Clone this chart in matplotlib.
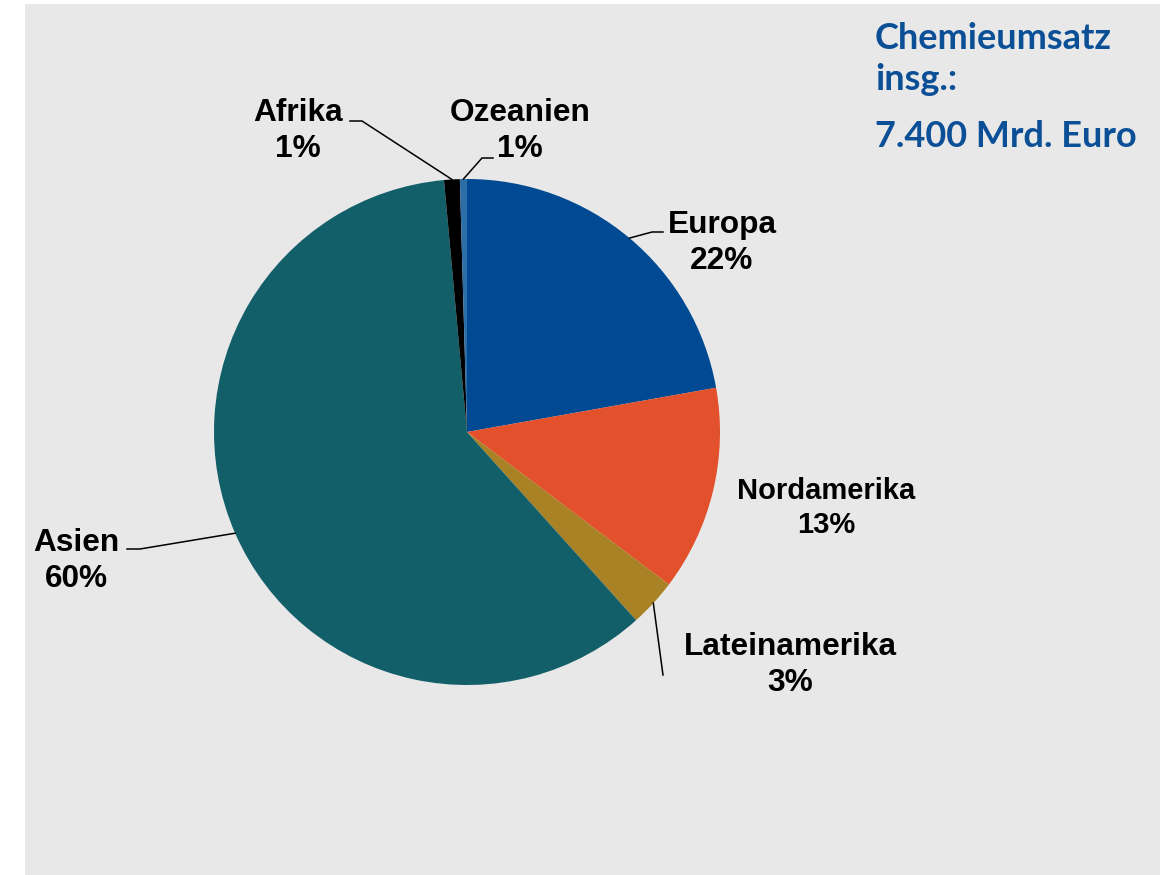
import matplotlib.pyplot as plt
from matplotlib.patches import Rectangle
import numpy as np

# Chemieumsatz nach Regionen (Anteile in %)
regions = ['Europa', 'Nordamerika', 'Lateinamerika', 'Asien', 'Afrika', 'Ozeanien']
shares = [22.2, 13.1, 3.05, 60.2, 1.0, 0.45]
share_labels = ['22%', '13%', '3%', '60%', '1%', '1%']
colors = ['#004a93', '#e2502c', '#a88224', '#135f69', '#000000', '#2e6ea6']

W, H = 1166, 875
fig = plt.figure(figsize=(W / 100, H / 100), dpi=100)
ax = fig.add_axes([0, 0, 1, 1])
ax.set_xlim(0, W)
ax.set_ylim(0, H)
ax.axis('off')

def up(y):
    # image row -> axis y
    return H - y

ax.add_patch(Rectangle((25, 0), 1135, up(4), facecolor='#e8e8e8', edgecolor='none', zorder=0))

cx, cy, r = 467, up(432), 253
wedges, _ = ax.pie(shares, colors=colors, startangle=90, counterclock=False,
                   center=(cx, cy), radius=r, wedgeprops=dict(linewidth=0))
ax.set_xlim(0, W)
ax.set_ylim(0, H)
ax.set_aspect('equal')

# label positions (image coords), font sizes and leader elbows
label_pos = {
    'Europa': (722, 243),
    'Nordamerika': (826, 508),
    'Lateinamerika': (790, 665),
    'Asien': (76, 561),
    'Afrika': (298, 131),
    'Ozeanien': (520, 131),
}
label_size = {'Nordamerika': 21}
leaders = {
    'Europa': [(663, 232), (652, 232)],
    'Lateinamerika': [(663, 675)],
    'Asien': [(127, 549), (140, 549)],
    'Afrika': [(350, 121), (362, 121)],
    'Ozeanien': [(493, 158), (482, 158)],
}

for w, name, lab in zip(wedges, regions, share_labels):
    x, y = label_pos[name]
    fs = label_size.get(name, 22.8)
    ax.text(x, up(y), f'{name}\n{lab}', ha='center', va='center', fontsize=fs,
            fontweight='bold', family='Liberation Sans', linespacing=1.3, color='black')
    if name in leaders:
        mid = np.deg2rad((w.theta1 + w.theta2) / 2)
        ex, ey = cx + r * np.cos(mid), cy + r * np.sin(mid)
        pts = [(px, up(py)) for px, py in leaders[name]] + [(ex, ey)]
        ax.plot([p[0] for p in pts], [p[1] for p in pts], color='black', lw=1.1, zorder=3)

title_color = '#0b4f96'
for txt, base in [('Chemieumsatz', 49), ('insg.:', 90), ('7.400 Mrd. Euro', 147)]:
    ax.text(875, up(base), txt, fontsize=26, fontweight='bold', family='Lato',
            color=title_color, ha='left', va='baseline')

fig.savefig('out.png', dpi=100, facecolor='white')
